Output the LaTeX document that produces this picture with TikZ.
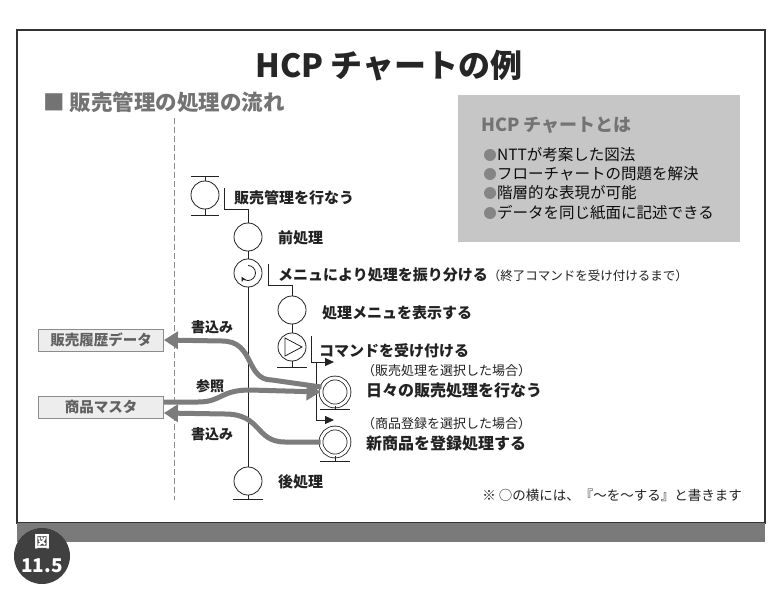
\documentclass[tikz,border=0pt]{standalone}
\usepackage{fontspec}
\setmainfont{Noto Sans CJK JP}
\usetikzlibrary{arrows.meta,calc}
\definecolor{ink}{HTML}{222222}
\definecolor{frameC}{HTML}{333333}
\definecolor{bandC}{HTML}{7A7A7A}
\definecolor{boxC}{HTML}{C6C6C6}
\definecolor{flowC}{HTML}{7C7C7C}
\definecolor{dataC}{HTML}{EDEDED}
\tikzset{
  proc/.style={circle, draw=ink, line width=0.8pt, minimum size=28pt, inner sep=0pt},
  dproc/.style={proc, double=white, double distance=3pt},
  lab/.style={anchor=west, inner sep=0pt, text=ink, font=\bfseries\fontsize{15}{15}\selectfont},
  smalllab/.style={anchor=west, inner sep=0pt, text=ink, font=\fontsize{13}{13}\selectfont},
  wire/.style={draw=ink, line width=0.8pt},
  branch/.style={wire, -{Triangle[length=9pt,width=8pt]}},
  flow/.style={draw=flowC, line width=5pt, -{Triangle[length=14pt,width=17pt]}},
  databox/.style={draw=black!45, fill=dataC, line width=0.8pt, minimum width=125pt, minimum height=22pt, text=black!62, font=\bfseries\fontsize{14.5}{14.5}\selectfont, inner sep=0pt},
  flowlab/.style={text=ink, font=\bfseries\fontsize{14}{14}\selectfont, inner sep=0pt},
  item/.style={anchor=west, inner sep=0pt, text=black!95, font=\fontsize{15.5}{15.5}\selectfont},
  bullet/.style={circle, fill=black!48, minimum size=12pt, inner sep=0pt},
  badgetxt/.style={text=white, inner sep=0pt, font=\bfseries\fontsize{16}{16}\selectfont}
}
\begin{document}
\begin{tikzpicture}[x=1pt,y=-1pt]
\useasboundingbox (0,0) rectangle (779,596);
\fill[white] (0,0) rectangle (779,596);
% frame and band
\draw[frameC, line width=1.3pt] (17,30) rectangle (765,523);
\fill[bandC] (17,523) rectangle (765,542);
\node[circle, fill=black!75, minimum size=56pt, inner sep=0pt] (badge) at (42,556) {};
\node[badgetxt] (badge1) at (42,542) {図};
\node[badgetxt, font=\bfseries\fontsize{19}{19}\selectfont] (badge2) at (42,566) {11.5};
% titles
\node[text=black!85, font=\bfseries\fontsize{32}{32}\selectfont, inner sep=0pt] (title) at (389,66) {HCP チャートの例};
\node[anchor=west, text=black!55, font=\bfseries\fontsize{21.5}{21.5}\selectfont, inner sep=0pt] (sub) at (43,102) {■ 販売管理の処理の流れ};
% HCP box
\node[fill=boxC, minimum width=282pt, minimum height=147pt, anchor=north west, inner sep=0pt] (hcpbox) at (458,95) {};
\node[anchor=west, text=black!55, font=\bfseries\fontsize{18}{18}\selectfont, inner sep=0pt] (hcptitle) at (481,125) {HCP チャートとは};
\node[bullet] (b1) at (490,155) {};
\node[bullet] (b2) at (490,174) {};
\node[bullet] (b3) at (490,193) {};
\node[bullet] (b4) at (490,213) {};
\node[item] (i1) at (497,155) {NTTが考案した図法};
\node[item] (i2) at (497,174) {フローチャートの問題を解決};
\node[item] (i3) at (497,193) {階層的な表現が可能};
\node[item] (i4) at (497,213) {データを同じ紙面に記述できる};
% dashed separator
\coordinate (dtop) at (174,118);
\coordinate (dbot) at (174,500);
\draw[black!45, line width=1pt, dash pattern=on 6pt off 3pt] (dtop) -- (dbot);
% process symbols
\node[proc] (T) at (205,195) {};
\node[proc] (P) at (248,237) {};
\node[proc] (L) at (248,273) {};
\node[proc] (M) at (292,310) {};
\node[proc] (Y) at (292,347) {};
\node[dproc] (D1) at (335,392) {};
\node[dproc] (D2) at (335,442) {};
\node[proc] (E) at (248,481) {};
% bars
\coordinate (Tt) at (205,176);
\coordinate (Tb) at (205,215);
\draw[wire] (T.north) -- (Tt);
\draw[wire] (T.south) -- (Tb);
\draw[wire] ($(Tt)+(-14,0)$) -- ($(Tt)+(14,0)$);
\draw[wire] ($(Tb)+(-14,0)$) -- ($(Tb)+(14,0)$);
\coordinate (Yb) at (292,367);
\draw[wire] (Y.south) -- (Yb);
\draw[wire] ($(Yb)+(-15,0)$) -- ($(Yb)+(15,0)$);
\coordinate (D1b) at (335,409);
\draw[wire] (D1.south) -- (D1b);
\draw[wire] ($(D1b)+(-15,0)$) -- ($(D1b)+(15,0)$);
\coordinate (D2b) at (335,461);
\draw[wire] (D2.south) -- (D2b);
\draw[wire] ($(D2b)+(-15,0)$) -- ($(D2b)+(15,0)$);
\coordinate (Eb) at (248,499);
\draw[wire] (E.south) -- (Eb);
\draw[wire] ($(Eb)+(-15,0)$) -- ($(Eb)+(15,0)$);
% symbols inside
\draw[wire, -{Stealth[length=5pt,width=5pt]}] ($(L.center)+(0,-7.5)$) arc[start angle=90, end angle=-150, radius=7.5pt];
\draw[wire] ($(Y.center)+(-7,-9)$) -- ($(Y.center)+(10,0)$) -- ($(Y.center)+(-7,9)$) -- cycle;
% connectors
\coordinate (ta) at (224,188);
\coordinate (tb) at (224,209);
\draw[wire] (ta) -- (tb) -| (P.north);
\draw[wire] (P) -- (L);
\draw[wire] (L) -- (E);
\coordinate (la) at (268,264);
\coordinate (lb) at (268,285);
\draw[wire] (la) -- (lb) -| (M.north);
\draw[wire] (M) -- (Y);
\coordinate (ya) at (311,336);
\coordinate (yb) at (311,362);
\coordinate (yc) at (316,362);
\coordinate (yd) at (316,420);
\coordinate (ar1) at (334,362);
\coordinate (ar2) at (334,420);
\draw[branch] (ya) -- (yb) -- (ar1);
\draw[branch] (yc) -- (yd) -- (ar2);
% data boxes
\node[databox] (hist) at (101,340) {販売履歴データ};
\node[databox] (mast) at (101,407) {商品マスタ};
% thick flows
\draw[flow] (D1.160) -- (272,380) .. controls (245,380) and (255,341) .. (222,341) -- (hist.east);
\draw[flow] ($(mast.east)+(0,-5)$) -- (198,402) .. controls (222,402) and (220,390) .. (250,390) -- (D1.west);
\draw[flow] (D2.west) -- (285,442) .. controls (255,442) and (262,414) .. (225,414) -- ($(mast.east)+(0,6)$);
\node[flowlab] (w1) at (212,327) {書込み};
\node[flowlab] (r1) at (210,386) {参照};
\node[flowlab] (w2) at (212,434) {書込み};
% labels
\node[lab] (tT) at (234,198) {販売管理を行なう};
\node[lab] (tP) at (278,238) {前処理};
\node[lab] (tL) at (278,275) {メニュにより処理を振り分ける{\mdseries\fontsize{12.5}{12.5}\selectfont （終了コマンドを受け付けるまで）}};
\node[lab] (tM) at (322,313) {処理メニュを表示する};
\node[lab] (tY) at (319,351) {コマンドを受け付ける};
\node[smalllab] (tD1a) at (362,371) {（販売処理を選択した場合）};
\node[lab, font=\bfseries\fontsize{16}{16}\selectfont] (tD1) at (366,390) {日々の販売処理を行なう};
\node[smalllab] (tD2a) at (362,424) {（商品登録を選択した場合）};
\node[lab, font=\bfseries\fontsize{16}{16}\selectfont] (tD2) at (366,443) {新商品を登録処理する};
\node[lab] (tE) at (278,482) {後処理};
\node[anchor=east, inner sep=0pt, text=ink, font=\fontsize{13.5}{13.5}\selectfont] (note) at (742,495) {※ ○の横には、『～を～する』と書きます};
\end{tikzpicture}
\end{document}
